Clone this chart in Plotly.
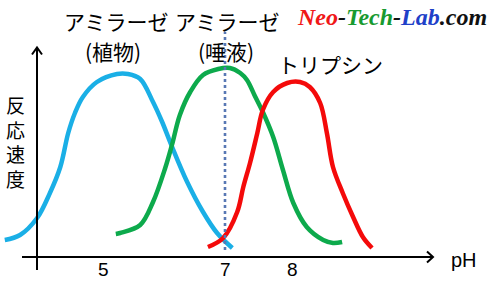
import plotly.graph_objects as go

W, H = 499, 281

# ---- data (pH vs relative reaction rate) ----
amylase_plant_ph = [3.39, 3.64, 3.92, 4.13, 4.30, 4.43, 4.54, 4.67, 4.90, 5.23, 5.41, 5.61, 5.82, 5.97, 6.12, 6.38, 6.64, 6.87, 7.12]
amylase_plant_rate = [8.5, 11, 19.5, 32, 45, 62, 72, 80, 87.5, 91.5, 91.5, 89, 77.5, 67.5, 56, 37.5, 22.5, 12, 4.5]

amylase_saliva_ph = [5.21, 5.28, 5.61, 5.82, 6.02, 6.13, 6.26, 6.43, 6.64, 6.89, 7.08, 7.25, 7.36, 7.49, 7.62, 7.79, 7.95, 8.12, 8.34, 8.61, 8.77, 8.92]
amylase_saliva_rate = [11.5, 12, 16, 27.5, 44.5, 56, 71, 82.5, 91, 94, 94.5, 92, 88.5, 80.5, 72.5, 60, 43.5, 27, 15, 8.5, 7, 7.5]

trypsin_ph = [6.72, 6.97, 7.20, 7.30, 7.41, 7.53, 7.62, 7.79, 8.02, 8.23, 8.39, 8.56, 8.67, 8.77, 8.93, 9.10, 9.26, 9.41]
trypsin_rate = [5, 9.5, 22.5, 35, 47, 62, 73.5, 82.5, 87, 87.5, 85, 77, 62, 45, 32, 20, 10, 4.5]

tick_ph = [5, 7, 8.1]
tick_labels = ["5", "7", "8"]
marker_ph = 7
series_names = [["アミラーゼ", "(植物)"], ["アミラーゼ", "(唾液)"], ["トリプシン"]]
y_title = "反応速度"
x_title = "pH"

# ---- pixel <-> data helpers (layout only) ----
PX_PER_PH = 61.0
PH5_PX = 103.0
AXIS_PY = 257.0
def fx(px):
    return 5 + (px - PH5_PX) / PX_PER_PH
def fy(py):
    return (AXIS_PY - py) / 2.0
def ppx(px):
    return px / W
def ppy(py):
    return 1 - py / H

fig = go.Figure()
curves = [
    (amylase_plant_ph, amylase_plant_rate, "#1AAFE6"),
    (amylase_saliva_ph, amylase_saliva_rate, "#0DAA4C"),
    (trypsin_ph, trypsin_rate, "#F40A0A"),
]
for (xs, ys, col), name in zip(curves, series_names):
    fig.add_trace(go.Scatter(x=xs, y=ys, mode="lines", name=" ".join(name),
                             line=dict(color=col, width=4.5, shape="spline", smoothing=1.0),
                             showlegend=False, hoverinfo="skip"))

shapes = []
# axes lines
shapes.append(dict(type="line", xref="paper", yref="paper", x0=ppx(22), x1=ppx(433), y0=ppy(257), y1=ppy(257),
                   line=dict(color="black", width=2)))
shapes.append(dict(type="line", xref="paper", yref="paper", x0=ppx(37), x1=ppx(37), y0=ppy(270), y1=ppy(47.5),
                   line=dict(color="black", width=2)))
# arrow heads (open chevrons)
shapes.append(dict(type="path", xref="paper", yref="paper",
                   path=f"M {ppx(427)} {ppy(251.5)} L {ppx(433)} {ppy(257)} L {ppx(427)} {ppy(262.5)}",
                   line=dict(color="black", width=2)))
shapes.append(dict(type="path", xref="paper", yref="paper",
                   path=f"M {ppx(32)} {ppy(54.5)} L {ppx(37)} {ppy(47.5)} L {ppx(42)} {ppy(54.5)}",
                   line=dict(color="black", width=2)))
# dotted marker at pH 7
shapes.append(dict(type="line", xref="x", yref="paper", x0=marker_ph, x1=marker_ph, y0=ppy(250), y1=ppy(32),
                   line=dict(color="#5878B4", width=2.6, dash="dot")))

ann = []
jp = "Noto Sans CJK JP"
# series labels (each line placed separately)
label_pos = [[(116, 21), (113, 51)], [(227, 21), (226, 51)], [(330, 64)]]
for lines, poss in zip(series_names, label_pos):
    for t, (lx, ly) in zip(lines, poss):
        ann.append(dict(x=ppx(lx), y=ppy(ly), xref="paper", yref="paper", text=t, showarrow=False,
                        font=dict(family=jp, size=21, color="black"), xanchor="center", yanchor="middle"))
# y title stacked vertically
ann.append(dict(x=ppx(15), y=ppy(141), xref="paper", yref="paper", text="<br>".join(y_title), showarrow=False,
                font=dict(family=jp, size=19, color="black"), xanchor="center", yanchor="middle"))
# tick labels
for v, t in zip(tick_ph, tick_labels):
    ann.append(dict(x=v, y=ppy(269), xref="x", yref="paper", text=t, showarrow=False,
                    font=dict(family="Liberation Sans", size=19, color="black"), xanchor="center", yanchor="middle"))
ann.append(dict(x=ppx(464), y=ppy(260), xref="paper", yref="paper", text=x_title, showarrow=False,
                font=dict(family="Liberation Sans", size=20, color="black"), xanchor="center", yanchor="middle"))
# watermark
ann.append(dict(x=ppx(392), y=ppy(17), xref="paper", yref="paper",
                text="<b><i><span style='color:#F01818'>Neo</span>-<span style='color:#189A30'>Tech</span>-"
                     "<span style='color:#2040C8'>Lab</span>.com</i></b>",
                showarrow=False, font=dict(family="Liberation Serif", size=24, color="#111111"),
                xanchor="center", yanchor="middle"))

fig.update_layout(
    width=W, height=H, margin=dict(l=0, r=0, t=0, b=0),
    paper_bgcolor="white", plot_bgcolor="white",
    xaxis=dict(range=[fx(0), fx(W)], visible=False, fixedrange=True),
    yaxis=dict(range=[fy(H), fy(0)], visible=False, fixedrange=True),
    shapes=shapes, annotations=ann, showlegend=False,
)
fig.write_html("out.html")
